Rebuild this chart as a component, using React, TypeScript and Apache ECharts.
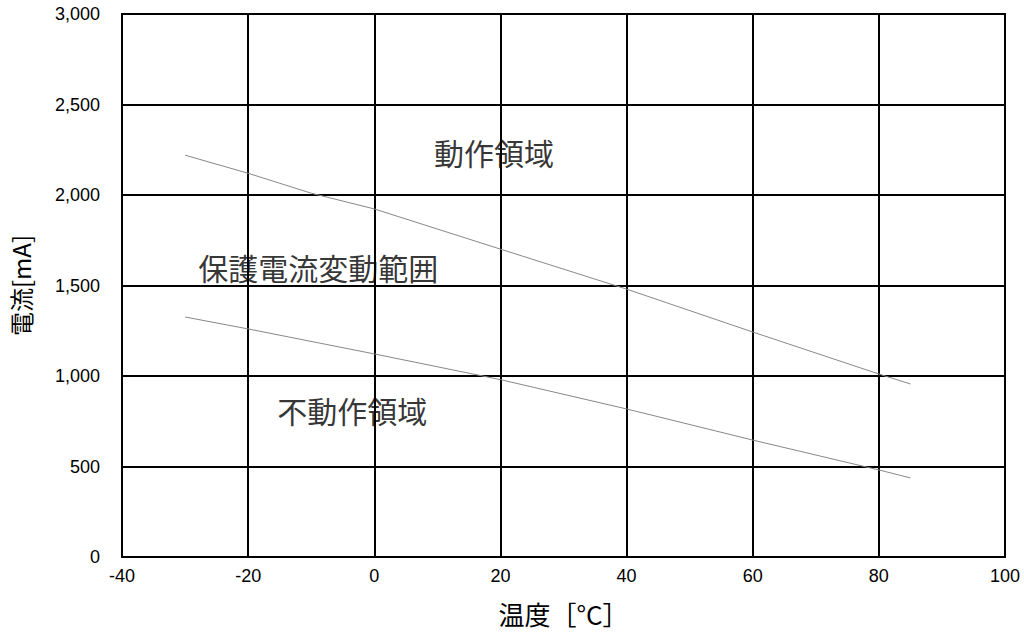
import React, { useEffect, useRef } from 'react';
import * as echarts from 'echarts';

// 温度 [°C]
const upperTemps = [-30, -20, -10, 0, 20, 40, 60, 80, 85];
const upperCurrent = [2220, 2120, 2010, 1923, 1701, 1480, 1243, 1011, 956];

const lowerTemps = [-30, -20, 0, 20, 40, 60, 80, 85];
const lowerCurrent = [1326, 1260, 1122, 980, 818, 646, 481, 437];

const regionNames = ['動作領域', '保護電流変動範囲', '不動作領域'];
const regionX = [19, -8.9, -3.5];
const regionY = [2237, 1602, 812];

const xTicks = [-40, -20, 0, 20, 40, 60, 80, 100];
const yTicks = [0, 500, 1000, 1500, 2000, 2500, 3000];

const tickFont = '"Liberation Sans", Arial, sans-serif';
const cjkFont = '"Noto Sans CJK JP", "Noto Sans", sans-serif';

const App: React.FC = () => {
  const chartRef = useRef<HTMLDivElement>(null);

  useEffect(() => {
    const myChart = echarts.init(chartRef.current!, null, { renderer: 'svg' });

    const option = {
      animation: false,
      backgroundColor: '#ffffff',
      grid: {
        left: 122,
        right: 19,
        top: 14,
        bottom: 75,
        outerBoundsMode: 'none',
        show: true,
        borderColor: '#000',
        borderWidth: 2,
      },
      xAxis: {
        type: 'value',
        min: xTicks[0],
        max: xTicks[xTicks.length - 1],
        interval: 20,
        name: '温度［°C］',
        nameLocation: 'middle',
        nameGap: 43,
        nameTextStyle: { fontFamily: cjkFont, fontSize: 26, lineHeight: 26, color: '#000' },
        axisLine: { lineStyle: { color: '#000', width: 2 } },
        axisTick: { show: false },
        axisLabel: { margin: 10, fontFamily: tickFont, fontSize: 18, color: '#000' },
        splitLine: { lineStyle: { color: '#000', width: 2 } },
      },
      yAxis: {
        type: 'value',
        min: yTicks[0],
        max: yTicks[yTicks.length - 1],
        interval: 500,
        name: '電流[mA]',
        nameLocation: 'middle',
        nameRotate: 90,
        nameGap: 90,
        nameTextStyle: { fontFamily: cjkFont, fontSize: 24, color: '#000' },
        axisLine: { lineStyle: { color: '#000', width: 2 } },
        axisTick: { show: false },
        axisLabel: {
          margin: 22,
          fontFamily: tickFont,
          fontSize: 18,
          color: '#000',
          formatter: (v: number) => v.toLocaleString('en-US'),
        },
        splitLine: { lineStyle: { color: '#000', width: 2 } },
      },
      series: [
        {
          type: 'line',
          data: upperTemps.map((t, i) => [t, upperCurrent[i]]),
          showSymbol: false,
          lineStyle: { color: '#888', width: 1 },
          z: 3,
        },
        {
          type: 'line',
          data: lowerTemps.map((t, i) => [t, lowerCurrent[i]]),
          showSymbol: false,
          lineStyle: { color: '#888', width: 1 },
          z: 3,
        },
        {
          type: 'scatter',
          symbolSize: 0,
          data: regionNames.map((n, i) => ({ name: n, value: [regionX[i], regionY[i]] })),
          label: {
            show: true,
            position: 'inside',
            formatter: '{b}',
            fontFamily: cjkFont,
            fontSize: 30,
            color: '#000',
          },
          z: 4,
        },
      ],
    };

    myChart.setOption(option);

    return () => {
      myChart.dispose();
    };
  }, []);

  return <div ref={chartRef} style={{ width: 1024, height: 632, position: 'absolute', left: 0, top: 0 }} />;
};

export default App;
